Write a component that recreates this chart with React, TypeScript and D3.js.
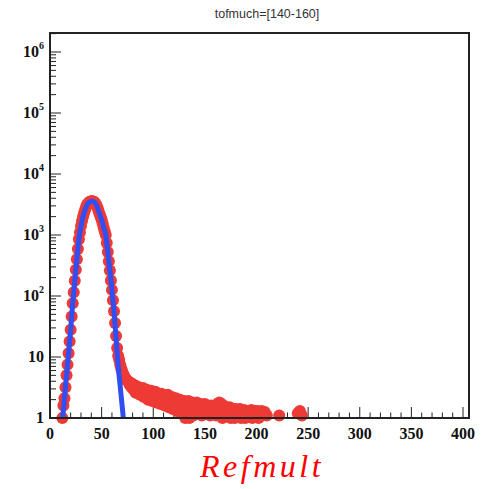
import React from "react";
import * as d3 from "d3";

const TITLE = "tofmuch=[140-160]";
const X_TITLE = "Refmult";

// red data points: refmult bin and content
const dataX: number[] = [
  12, 13, 14, 15, 16, 17, 18, 19, 20, 21, 22, 23, 24, 25, 26, 27, 28, 29, 30, 31,
  32, 33, 34, 35, 36, 37, 38, 39, 40, 41, 42, 43, 44, 45, 46, 47, 48, 49, 50, 51,
  52, 53, 54, 55, 56, 57, 58, 59, 60, 61, 62, 63, 64, 65, 66, 67, 68, 69, 70, 71,
  72, 73, 74, 75, 76, 77, 78, 79, 80, 81, 82, 83, 84, 85, 86, 87, 88, 89, 90, 91,
  92, 93, 94, 95, 96, 97, 98, 99, 100, 101, 102, 103, 104, 105, 106, 107, 108, 109, 110, 111,
  112, 113, 114, 115, 116, 117, 118, 119, 120, 121, 122, 123, 124, 125, 126, 127, 128, 129, 130, 131,
  132, 133, 134, 135, 136, 137, 138, 139, 140, 141, 142, 143, 144, 145, 146, 147, 148, 149, 150, 151,
  152, 153, 154, 155, 156, 157, 158, 159, 160, 161, 162, 163, 164, 165, 166, 167, 168, 169, 170, 171,
  172, 173, 174, 175, 176, 177, 178, 179, 180, 181, 182, 183, 184, 185, 186, 187, 188, 189, 190, 191,
  193, 194, 195, 196, 197, 199, 200, 201, 202, 203, 205, 206, 208, 210, 222, 240, 242, 244,
];
const dataY: number[] = [
  1, 1.6, 2.1, 3.2, 5, 7.5, 11.5, 18, 28, 46, 76, 115, 178, 270, 400, 590, 850, 1100, 1400, 1700,
  2000, 2300, 2600, 2900, 3150, 3320, 3450, 3540, 3590, 3590, 3550, 3450, 3300, 3080, 2800, 2500, 2200, 2000, 1780, 1550,
  1320, 1150, 1000, 740, 525, 370, 263, 180, 126, 85, 56, 36, 22, 14, 10.5, 9, 7.5, 6.5, 5.8, 5.2,
  4.8, 4.5, 4.2, 4.1, 3.9, 3.5, 3.8, 3.2, 3.6, 2.9, 3.4, 2.6, 3.3, 2.8, 3.2, 2.4, 3.0, 2.6, 3.1, 2.2,
  2.8, 2.5, 2.9, 2.0, 2.7, 2.3, 2.8, 1.9, 2.6, 2.2, 2.7, 1.8, 2.5, 2.1, 2.4, 1.7, 2.5, 1.9, 2.3, 1.6,
  2.2, 2.0, 2.4, 1.5, 2.1, 1.8, 2.2, 1.4, 2.0, 1.7, 2.1, 1.3, 1.9, 1.6, 2.0, 1.2, 1.8, 1.5, 1.9, 1.0,
  1.7, 1.4, 1.9, 1.0, 1.6, 1.3, 1.8, 1.1, 1.7, 1.4, 1.8, 1.2, 1.6, 1.3, 1.7, 1.1, 1.6, 1.4, 1.7, 1.2,
  1.6, 1.3, 1.5, 1.1, 1.6, 1.2, 1.5, 1.3, 1.6, 1.1, 1.7, 1.4, 1.8, 1.2, 1.7, 1.0, 1.6, 1.2, 1.5, 1.1,
  1.4, 1.2, 1.5, 1.0, 1.4, 1.2, 1.4, 1.0, 1.4, 1.1, 1.3, 1.2, 1.4, 1.0, 1.3, 1.1, 1.35, 1.0, 1.3, 1.1,
  1.3, 1.1, 1.35, 1.0, 1.2, 1.3, 1.1, 1.3, 1.0, 1.2, 1.3, 1.1, 1.25, 1.1, 1.1, 1.2, 1.3, 1.1,
];

// blue fit curve
const fitX: number[] = [12.3, 14, 16, 18, 20, 22, 24, 26, 28, 30, 32, 34, 36, 38, 40, 42, 44, 46, 48, 50, 52, 54, 56, 58, 60, 62, 64, 66, 68, 70, 71];
const fitY: number[] = [1, 2.1, 5, 11.5, 28, 76, 178, 400, 850, 1400, 2000, 2600, 3150, 3450, 3590, 3550, 3300, 2800, 2200, 1780, 1320, 1000, 525, 263, 126, 56, 20, 7.2, 3.3, 1.5, 1];

const xTicks: number[] = [0, 50, 100, 150, 200, 250, 300, 350, 400];
const yExps: number[] = [0, 1, 2, 3, 4, 5, 6];

const W = 483;
const H = 489;
const L = 50, R = 469, T = 33, B = 418;

export default function App() {
  const x = d3.scaleLinear().domain([0, 405.8]).range([L, R]);
  const y = d3.scaleLog().domain([1, Math.pow(10, (B - T) / 61)]).range([B, T]);

  const line = d3
    .line<number>()
    .x((_, i) => x(fitX[i]))
    .y((_, i) => y(fitY[i]))
    .curve(d3.curveMonotoneX);

  const minorX = d3.range(0, 406, 10).filter((v) => v % 50 !== 0);
  const minorY: number[] = [];
  for (let e = 0; e <= 6; e++) {
    for (let m = 2; m <= 9; m++) {
      const v = m * Math.pow(10, e);
      if (y(v) >= T) minorY.push(v);
    }
  }

  const serif = "'Liberation Serif', 'Times New Roman', serif";

  return (
    <svg
      width={W}
      height={H}
      style={{ position: "absolute", left: 0, top: 0, background: "#fff" }}
    >
      <rect x={0} y={0} width={W} height={H} fill="#fff" />
      <text
        x={267}
        y={18}
        textAnchor="middle"
        fontFamily="'Liberation Sans', Arial, sans-serif"
        fontSize={12.5}
        fill="#333"
      >
        {TITLE}
      </text>

      {/* ticks */}
      <g stroke="#222" strokeWidth={1}>
        {xTicks.map((t) => (
          <line key={"xt" + t} x1={x(t)} x2={x(t)} y1={B} y2={B - 11} />
        ))}
        {minorX.map((t) => (
          <line key={"xm" + t} x1={x(t)} x2={x(t)} y1={B} y2={B - 5.5} />
        ))}
        {yExps.map((e) => (
          <line key={"yt" + e} x1={L} x2={L + 11} y1={y(Math.pow(10, e))} y2={y(Math.pow(10, e))} />
        ))}
        {minorY.map((v, i) => (
          <line key={"ym" + i} x1={L} x2={L + 6} y1={y(v)} y2={y(v)} />
        ))}
      </g>

      {/* data */}
      <g fill="#ee3a36">
        {dataX.map((v, i) => (
          <circle key={"p" + i} cx={x(v)} cy={y(dataY[i])} r={6} />
        ))}
      </g>
      <path d={line(fitX) || ""} fill="none" stroke="#2f4ff2" strokeWidth={5} />

      {/* frame */}
      <rect x={L} y={T} width={R - L} height={B - T} fill="none" stroke="#222" strokeWidth={2} />

      {/* tick labels */}
      <g fontFamily={serif} fontWeight="bold" fontSize={16} fill="#111">
        {xTicks.map((t) => (
          <text key={"xl" + t} x={x(t)} y={B + 21} textAnchor="middle">
            {t}
          </text>
        ))}
        {yExps.map((e) => {
          const yy = y(Math.pow(10, e)) + 5;
          if (e === 0)
            return (
              <text key={"yl" + e} x={44} y={yy} textAnchor="end">
                1
              </text>
            );
          if (e === 1)
            return (
              <text key={"yl" + e} x={44} y={yy} textAnchor="end">
                10
              </text>
            );
          return (
            <text key={"yl" + e} x={44} y={yy} textAnchor="end">
              10
              <tspan fontSize={10} dy={-8}>
                {e}
              </tspan>
            </text>
          );
        })}
      </g>

      <text
        x={262}
        y={477}
        textAnchor="middle"
        fontFamily={serif}
        fontStyle="italic"
        fontSize={32}
        letterSpacing={3.5}
        fill="#ff0000"
      >
        {X_TITLE}
      </text>
    </svg>
  );
}
